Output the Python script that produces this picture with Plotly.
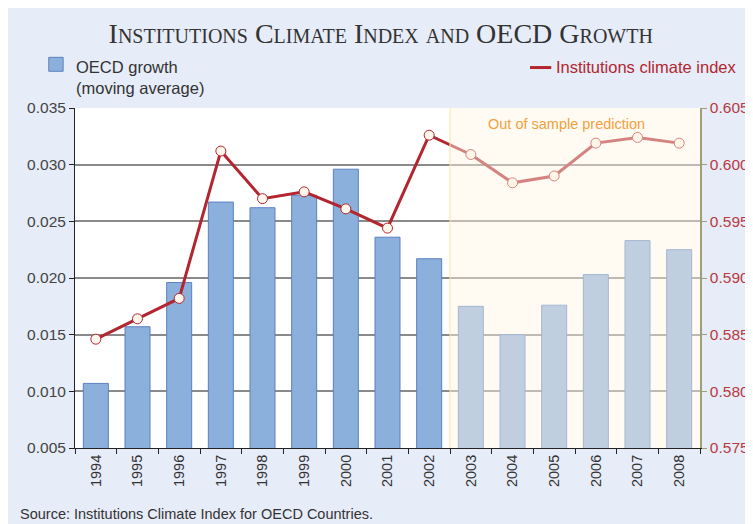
import plotly.graph_objects as go

years = ["1994", "1995", "1996", "1997", "1998", "1999", "2000", "2001",
         "2002", "2003", "2004", "2005", "2006", "2007", "2008"]
oecd_growth = [0.0107, 0.0157, 0.0196, 0.0267, 0.0262, 0.0273, 0.0296, 0.0236,
               0.0217, 0.0175, 0.0150, 0.0176, 0.0203, 0.0233, 0.0225]
climate_index = [0.5846, 0.5864, 0.5882, 0.6012, 0.5970, 0.5976, 0.5961, 0.5944,
                 0.6026, 0.6009, 0.5984, 0.5990, 0.6019, 0.6024, 0.6019]
left_ticks = [0.005, 0.010, 0.015, 0.020, 0.025, 0.030, 0.035]
right_ticks = [0.575, 0.580, 0.585, 0.590, 0.595, 0.600, 0.605]
first_predicted = "2003"

FONT = "Liberation Sans, Arial, sans-serif"
RED = "#b3262f"
BG = "#e6ecf8"

fig = go.Figure()
fig.add_trace(go.Bar(
    x=years, y=oecd_growth, name="OECD growth (moving average)",
    marker=dict(color="#8cb0dc", line=dict(color="#5b80c2", width=1)),
    yaxis="y", showlegend=False,
))
fig.add_trace(go.Scatter(
    x=years, y=climate_index, name="Institutions climate index",
    mode="lines+markers", yaxis="y2",
    line=dict(color=RED, width=3),
    marker=dict(symbol="circle", size=10, color="#fff6ec",
                line=dict(color=RED, width=1)),
    showlegend=False,
))

split = years.index(first_predicted) - 0.5
shapes = [
    # out-of-sample overlay
    dict(type="rect", xref="x", yref="paper", x0=split, x1=len(years) - 0.5,
         y0=0, y1=1, fillcolor="rgba(255,247,228,0.45)", line=dict(width=0),
         layer="above"),
    dict(type="line", xref="x", yref="paper", x0=split, x1=split, y0=0, y1=1,
         line=dict(color="#f8e6a8", width=1), layer="above"),
    # legend symbols
    dict(type="rect", xref="paper", yref="paper", x0=-0.042, x1=-0.019,
         y0=1.108, y1=1.149, fillcolor="#8cb0dc",
         line=dict(color="#5b80c2", width=1)),
    dict(type="line", xref="paper", yref="paper", x0=0.728, x1=0.762,
         y0=1.119, y1=1.119, line=dict(color=RED, width=3)),
]

annotations = [
    dict(text="OECD growth", xref="paper", yref="paper", x=-0.002, y=1.121,
         xanchor="left", yanchor="middle", showarrow=False,
         font=dict(family=FONT, size=16.5, color="#333333")),
    dict(text="(moving average)", xref="paper", yref="paper", x=-0.002, y=1.059,
         xanchor="left", yanchor="middle", showarrow=False,
         font=dict(family=FONT, size=16.5, color="#333333")),
    dict(text="Institutions climate index", xref="paper", yref="paper",
         x=0.766, y=1.121, xanchor="left", yanchor="middle", showarrow=False,
         font=dict(family=FONT, size=16.5, color=RED)),
    dict(text="Out of sample prediction", xref="paper", yref="paper",
         x=0.787, y=0.952, xanchor="center", yanchor="middle", showarrow=False,
         font=dict(family=FONT, size=14.5, color="#f5a03c")),
    dict(text="Source: Institutions Climate Index for OECD Countries.",
         xref="paper", yref="paper", x=-0.091, y=-0.193, xanchor="left",
         yanchor="middle", showarrow=False,
         font=dict(family=FONT, size=14.5, color="#333333")),
]

fig.update_layout(
    width=753, height=524,
    margin=dict(l=67, r=61, t=100, b=84, autoexpand=False),
    paper_bgcolor=BG, plot_bgcolor="white",
    bargap=0.4,
    title=dict(text="Institutions Climate Index and OECD Growth",
               x=0.495, xanchor="center", y=0.952, yanchor="middle",
               yref="container", automargin=False,
               font=dict(family="Liberation Serif, Times New Roman, serif",
                         size=28, color="#333333", variant="small-caps")),
    xaxis=dict(type="category", range=[-0.5, len(years) - 0.5],
               tickangle=-90, tickson="boundaries",
               ticks="outside", ticklen=5, tickcolor="#222", automargin=False,
               showline=True, linecolor="#222", linewidth=1,
               showgrid=False, tickfont=dict(family=FONT, size=14.5, color="#333")),
    yaxis=dict(range=[0.005, 0.035], tickvals=left_ticks, automargin=False,
               tickformat=".3f", ticks="outside", ticklen=5, tickcolor="#222",
               showline=True, linecolor="#222", linewidth=1,
               gridcolor="#8a8a8a", gridwidth=1.5, zeroline=False,
               tickfont=dict(family=FONT, size=15.5, color="#444")),
    yaxis2=dict(range=[0.575, 0.605], tickvals=right_ticks, tickformat=".3f",
                overlaying="y", side="right", ticks="outside", ticklen=5,
                automargin=False,
                tickcolor="#a29c78", showline=True, linecolor="#a29c78",
                linewidth=1.5, showgrid=False, zeroline=False,
                tickfont=dict(family=FONT, size=15.5, color="#b83a40")),
    shapes=shapes, annotations=annotations,
)

fig.write_html("out.html")
